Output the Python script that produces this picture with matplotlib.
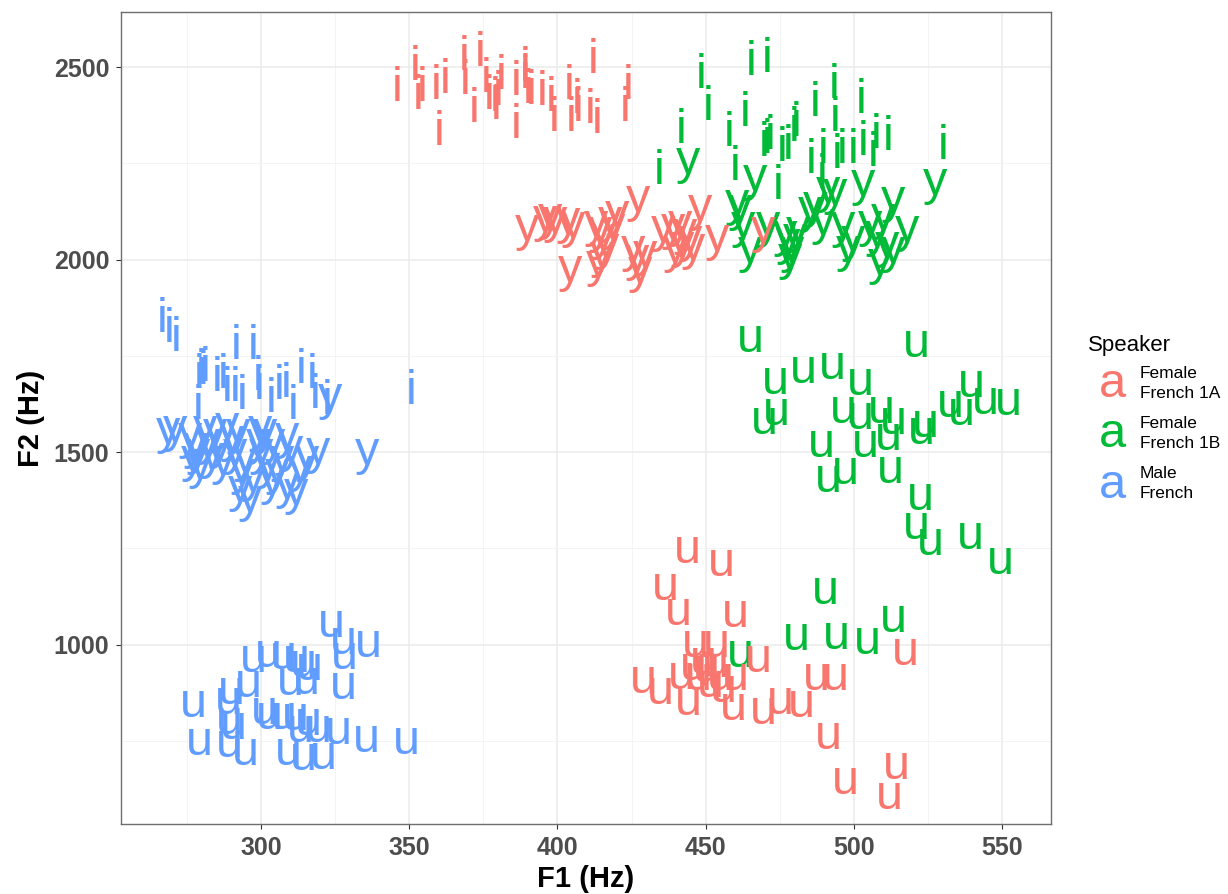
import matplotlib
matplotlib.use("Agg")
import matplotlib.pyplot as plt
from matplotlib.transforms import offset_copy
from matplotlib.legend_handler import HandlerBase
from matplotlib.text import Text
from matplotlib.lines import Line2D

FONT = "Liberation Sans"

# ---------------- data ----------------
speakers = ["Female\nFrench 1A", "Female\nFrench 1B", "Male\nFrench"]
colors = ["#F8766D", "#00BA38", "#619CFF"]

# Female French 1A
f1a_i_F1 = [346, 352, 353, 354.5, 359, 360, 362, 368.5, 369, 372, 374, 376, 377, 379, 379.5, 380, 381, 386, 386,
            389, 389, 390, 391, 395, 398, 399, 404, 404.5, 406.5, 407, 411, 412, 413.5, 423, 424]
f1a_i_F2 = [2445, 2500, 2424, 2445, 2451, 2330, 2465, 2526, 2463, 2391, 2535, 2469, 2424, 2419, 2398, 2434, 2476,
            2460, 2350, 2497, 2480, 2441, 2437, 2434, 2419, 2367, 2451, 2367, 2415, 2393, 2389, 2517, 2361, 2393, 2451]
f1a_y_F1 = [389.6, 395.8, 397.5, 399.2, 403.7, 405.4, 404.2, 413.2, 414.4, 415.5, 416.6, 414.9, 417.7, 418.9, 413.8,
            420.0, 427.3, 425.6, 426.7, 427.9, 429.5, 435.7, 439.1, 441.4, 443.0, 444.7, 441.9, 439.7, 448.1, 453.7,
            469.5, 445.9]
f1a_y_F2 = [2082, 2106, 2110, 2101, 2100, 2088, 1974, 2093, 2077, 2058, 2032, 2010, 2101, 2084, 1989, 2117, 2156,
            2028, 2004, 1971, 2015, 2080, 2084, 2093, 2071, 2054, 2036, 2023, 2134, 2056, 2075, 2032]
f1a_u_F1 = [443.8, 455.4, 436.3, 440.8, 459.9, 446.4, 453.7, 429.0, 434.6, 441.9, 444.2, 447.5, 450.4, 451.5, 453.2,
            454.9, 456.0, 459.9, 459.4, 467.8, 469.5, 475.1, 482.4, 487.5, 493.7, 491.4, 497.0, 514.5, 512.0, 517.3,
            449.2, 445.9]
f1a_u_F2 = [1245, 1210, 1148, 1083, 1079, 1001, 1001, 907, 879, 918, 849, 914, 936, 897, 949, 914, 884, 914, 836,
            962, 827, 853, 845, 914, 914, 762, 645, 684, 606, 979, 957, 940]

# Female French 1B
f1b_i_F1 = [434.4, 441.6, 448.4, 450.7, 458.0, 460.1, 463.3, 465.2, 470.8, 469.7, 470.6, 471.7, 474.5, 475.7, 477.7,
            479.8, 480.4, 485.6, 487.1, 489.5, 489.2, 493.3, 493.7, 494.2, 495.9, 499.8, 502.3, 503.0, 506.6, 507.4,
            511.7, 530.0]
f1b_i_F2 = [2229, 2337, 2478, 2396, 2327, 2240, 2379, 2512, 2521, 2303, 2309, 2320, 2190, 2290, 2294, 2342, 2353,
            2259, 2405, 2283, 2220, 2454, 2368, 2272, 2285, 2285, 2413, 2304, 2277, 2322, 2318, 2294]
f1b_y_F1 = [444.1, 466.7, 460.7, 461.6, 462.7, 465.0, 471.2, 476.8, 477.9, 479.0, 480.2, 481.3, 478.5, 485.2, 486.9,
            491.4, 493.7, 489.7, 496.5, 498.2, 499.8, 503.2, 505.5, 507.7, 510.0, 513.3, 508.8, 513.3, 517.8, 527.4,
            511.1]
f1b_y_F2 = [2256, 2212, 2145, 2134, 2088, 2023, 2088, 2067, 2045, 2023, 2058, 2075, 2006, 2127, 2140, 2179, 2175,
            2097, 2088, 2028, 2054, 2197, 2093, 2067, 2110, 2153, 1993, 2023, 2080, 2201, 2036]
f1b_u_F1 = [465.0, 473.6, 483.0, 492.9, 502.3, 521.2, 469.7, 474.0, 496.5, 502.1, 509.4, 513.3, 511.7, 524.0, 522.9,
            532.5, 536.4, 539.8, 544.3, 552.1, 489.2, 503.8, 491.4, 497.0, 512.2, 522.3, 521.0, 525.7, 539.4, 549.3,
            461.6, 480.5, 490.3, 494.2, 504.6, 513.3]
f1b_u_F2 = [1794, 1685, 1713, 1724, 1681, 1781, 1581, 1603, 1609, 1592, 1609, 1581, 1538, 1573, 1555, 1623, 1603,
            1675, 1633, 1629, 1521, 1521, 1430, 1451, 1453, 1382, 1308, 1265, 1282, 1217, 975, 1018, 1139, 1022,
            1009, 1066]

# Male French
m_i_F1 = [266.7, 269.1, 271.5, 279.2, 279.8, 280.5, 281.1, 278.9, 285.3, 287.3, 288.6, 291.5, 291.2, 293.8, 297.2,
          299.1, 299.4, 303.6, 306.2, 308.4, 310.7, 313.7, 317.4, 318.2, 322.4, 350.5]
m_i_F2 = [1845, 1819, 1796, 1700, 1713, 1709, 1718, 1618, 1692, 1700, 1666, 1774, 1666, 1646, 1774, 1694, 1672,
          1637, 1670, 1677, 1618, 1713, 1700, 1648, 1633, 1659]
m_y_F1 = [268.7, 271.0, 276.1, 277.7, 277.2, 278.9, 281.1, 282.2, 283.4, 284.5, 286.2, 287.3, 288.4, 290.1, 291.2,
          292.4, 293.5, 294.6, 292.9, 296.3, 297.4, 299.1, 300.2, 301.4, 302.5, 303.6, 304.2, 305.3, 307.0, 308.7,
          310.3, 312.0, 313.2, 315.4, 319.3, 323.3, 335.7, 299.7, 279.4, 308.7]
m_y_F2 = [1555, 1560, 1542, 1516, 1482, 1499, 1560, 1525, 1490, 1551, 1516, 1473, 1568, 1534, 1499, 1551, 1447,
          1482, 1404, 1378, 1430, 1525, 1499, 1551, 1464, 1421, 1525, 1447, 1482, 1542, 1508, 1395, 1456, 1482,
          1503, 1642, 1499, 1560, 1464, 1412]
m_u_F1 = [323.8, 327.8, 336.2, 328.3, 297.4, 302.5, 307.5, 311.8, 314.3, 316.5, 309.8, 315.4, 295.7, 290.1, 289.0,
          327.8, 277.2, 301.3, 303.0, 307.5, 311.5, 316.0, 319.3, 326.1, 289.5, 290.7, 279.4, 289.5, 294.6, 309.2,
          314.3, 321.0, 335.6, 349.2, 313.2]
m_u_F2 = [1053, 1009, 1001, 970, 962, 975, 970, 962, 949, 940, 901, 905, 897, 879, 853, 892, 845, 827, 814, 814,
          810, 797, 780, 775, 801, 788, 745, 741, 719, 719, 706, 710, 754, 749, 780]

x_ticks = [300, 350, 400, 450, 500, 550]
y_ticks = [1000, 1500, 2000, 2500]

# ---------------- figure ----------------
fig = plt.figure(figsize=(12.28, 8.94), dpi=100)
ax = fig.add_axes([121 / 1228, 1 - 824 / 894, (1051 - 121) / 1228, (824 - 12) / 894])

LABEL_SIZE = 35
# text positioned so that the centre of the x-height sits on the data point
trans = offset_copy(ax.transData, fig=fig, x=0, y=-0.519 * LABEL_SIZE / 2, units="points")

groups = [
    (f1b_i_F1, f1b_i_F2, "i", 1), (f1b_y_F1, f1b_y_F2, "y", 1), (f1b_u_F1, f1b_u_F2, "u", 1),
    (f1a_i_F1, f1a_i_F2, "i", 0), (f1a_y_F1, f1a_y_F2, "y", 0), (f1a_u_F1, f1a_u_F2, "u", 0),
    (m_i_F1, m_i_F2, "i", 2), (m_y_F1, m_y_F2, "y", 2), (m_u_F1, m_u_F2, "u", 2),
]
for xs, ys, lab, si in groups:
    for x, y in zip(xs, ys):
        ax.text(x, y, lab, color=colors[si], fontsize=LABEL_SIZE, family=FONT,
                ha="center", va="baseline", transform=trans)

ax.set_xlim(252.8, 566.5)
ax.set_ylim(533.6, 2643.6)
ax.set_xticks(x_ticks)
ax.set_yticks(y_ticks)
ax.set_xticks([275, 325, 375, 425, 475, 525], minor=True)
ax.set_yticks([750, 1250, 1750, 2250], minor=True)
ax.grid(True, which="major", color="#EBEBEB", linewidth=1.1)
ax.grid(True, which="minor", color="#F2F2F2", linewidth=0.6)
ax.set_axisbelow(True)
ax.tick_params(which="minor", length=0)
ax.tick_params(which="major", length=3.5, width=0.8, color="#333333", pad=5,
               labelsize=18, labelcolor="#4D4D4D")
for lbl in ax.get_xticklabels() + ax.get_yticklabels():
    lbl.set_fontweight("bold")
    lbl.set_family(FONT)
for sp in ax.spines.values():
    sp.set_color("#6E6E6E")
    sp.set_linewidth(1.0)

ax.set_xlabel("F1 (Hz)", fontsize=21, fontweight="bold", family=FONT, labelpad=4)
ax.set_ylabel("F2 (Hz)", fontsize=21, fontweight="bold", family=FONT, labelpad=6)


class LetterHandler(HandlerBase):
    def create_artists(self, legend, orig_handle, xdescent, ydescent, width, height, fontsize, trans):
        t = Text(x=width / 2 - xdescent, y=height / 2 - ydescent, text="a",
                 color=orig_handle.get_color(), fontsize=LABEL_SIZE, family=FONT,
                 ha="center", va="center", transform=trans)
        return [t]


handles = [Line2D([], [], color=c) for c in colors]
leg = fig.legend(handles, speakers, loc="upper left", bbox_to_anchor=(1088 / 1228, 1 - 335 / 894),
                 frameon=False, title="Speaker", alignment="left",
                 handler_map={Line2D: LetterHandler()},
                 prop={"family": FONT, "size": 12.5}, title_fontproperties={"family": FONT, "size": 16},
                 handlelength=2.77, handleheight=3.55, labelspacing=0.35, handletextpad=0.23,
                 borderaxespad=0, borderpad=0)
leg._legend_handle_box.sep = 0  # keep compact packing
for t in leg.get_texts():
    t.set_linespacing(1.42)

fig.savefig("out.png", dpi=100)
